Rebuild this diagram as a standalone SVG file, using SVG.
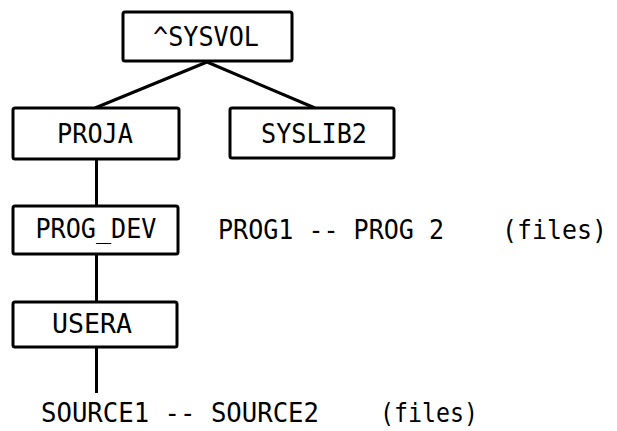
<svg xmlns="http://www.w3.org/2000/svg" width="617" height="431" viewBox="0 0 617 431">
<style>
.box{fill:#fff;stroke:#000;stroke-width:3}
.t{font-family:"DejaVu Sans Mono","Liberation Mono",monospace;font-size:27px;fill:#000}
.c{text-anchor:middle}
.ln{stroke:#000;stroke-width:3;fill:none}
</style>
<rect width="617" height="431" fill="#fff"/>
<g id="connectors">
<polyline class="ln" points="95,108 207,62 315,108"/>
<line class="ln" x1="96.5" y1="159" x2="96.5" y2="206"/>
<line class="ln" x1="96.5" y1="254" x2="96.5" y2="302"/>
<line class="ln" x1="96.5" y1="347" x2="96.5" y2="393"/>
</g>
<g id="sysvol">
<rect class="box" x="123" y="12" width="169" height="49" rx="2"/>
<text class="t c" x="206" y="46" textLength="106" lengthAdjust="spacingAndGlyphs">^SYSVOL</text>
</g>
<g id="proja">
<rect class="box" x="13" y="108" width="166" height="51" rx="2"/>
<text class="t c" x="95" y="143" textLength="76" lengthAdjust="spacingAndGlyphs">PROJA</text>
</g>
<g id="syslib2">
<rect class="box" x="230" y="108" width="164" height="50" rx="2"/>
<text class="t c" x="314" y="143" textLength="106" lengthAdjust="spacingAndGlyphs">SYSLIB2</text>
</g>
<g id="prog_dev">
<rect class="box" x="13" y="206" width="165" height="48" rx="2"/>
<text class="t c" x="96" y="238" textLength="121" lengthAdjust="spacingAndGlyphs">PROG_DEV</text>
</g>
<g id="prog_files">
<text class="t" y="239"><tspan x="218" textLength="226" lengthAdjust="spacingAndGlyphs">PROG1 -- PROG 2</tspan><tspan x="502" textLength="105" lengthAdjust="spacingAndGlyphs">(files)</tspan></text>
</g>
<g id="usera">
<rect class="box" x="13" y="302" width="164" height="45" rx="2"/>
<text class="t c" x="92" y="333" textLength="80" lengthAdjust="spacingAndGlyphs">USERA</text>
</g>
<g id="source_files">
<text class="t" y="422"><tspan x="41" textLength="278" lengthAdjust="spacingAndGlyphs">SOURCE1 -- SOURCE2</tspan><tspan x="380" textLength="98" lengthAdjust="spacingAndGlyphs">(files)</tspan></text>
</g>
</svg>
